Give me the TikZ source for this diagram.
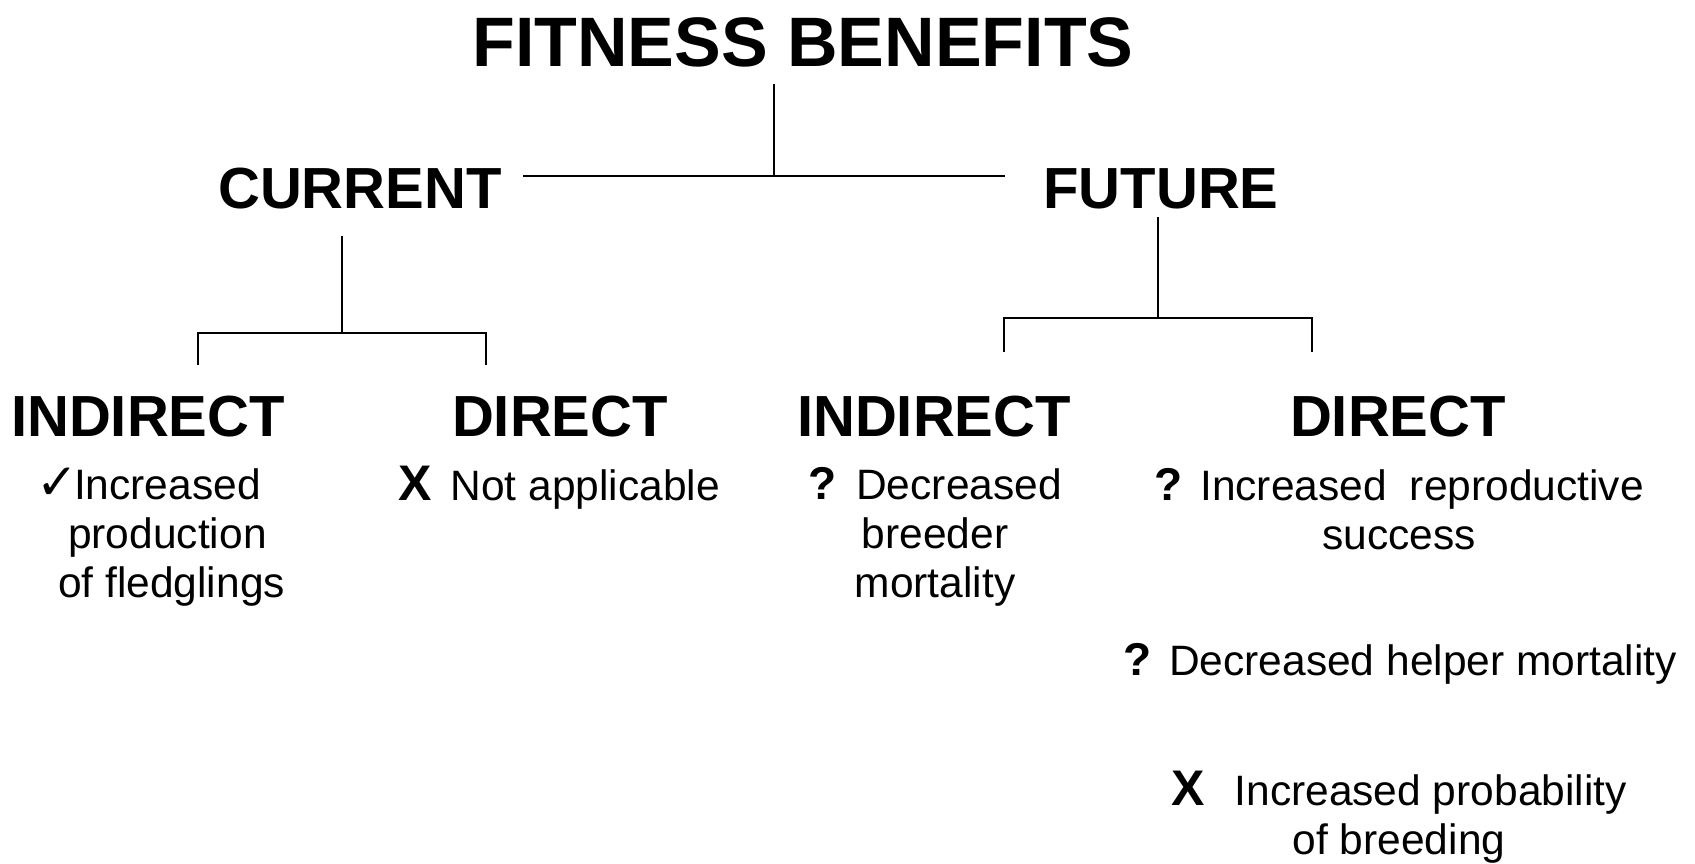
\documentclass[tikz,border=0pt]{standalone}
\usepackage{fontspec}
\setmainfont{Liberation Sans}
\newfontfamily\symfont{DejaVu Sans}
\newcommand\qmk{{\fontsize{46}{46}\selectfont\bfseries ?}}
\newcommand\xmk{{\fontsize{50}{50}\selectfont\bfseries X}}
\newcommand\ckmk{{\symfont\fontsize{50}{50}\selectfont ✓}}
\begin{document}
\begin{tikzpicture}[x=1pt,y=-1pt,
  titletext/.style={font=\bfseries\fontsize{70}{80}\selectfont, inner sep=0, anchor=base},
  headtext/.style={font=\bfseries\fontsize{58}{66}\selectfont, inner sep=0, anchor=base},
  bodytext/.style={font=\fontsize{42.5}{48.6}\selectfont, inner sep=0, align=center, anchor=base},
  conn/.style={line width=2pt}]
\useasboundingbox (0,0) rectangle (1695,864);
% headings
\node[titletext] (fb) at (803,67) {FITNESS BENEFITS};
\node[headtext] (cur) at (360,208) {CURRENT};
\node[headtext] (fut) at (1161,208) {FUTURE};
\node[headtext] (ci) at (148,436) {INDIRECT};
\node[headtext] (cd) at (560,436) {DIRECT};
\node[headtext] (fi) at (934,436) {INDIRECT};
\node[headtext] (fd) at (1398,436) {DIRECT};
% bodies (multi-line nodes: base anchor is the last line's baseline)
\node[bodytext, align=left, anchor=base west] (cib) at (36,597)
  {\ckmk\hspace{-4pt}Increased\\\hspace*{32pt}production\\\hspace*{22pt}of fledglings};
\node[bodytext, anchor=base west] (cdb) at (398,500) {\xmk\hspace{19pt}Not applicable};
\node[bodytext] (fib) at (935,597) {\qmk\hspace{20pt}Decreased\\breeder\\mortality};
\node[bodytext] (fdb) at (1399,549) {\qmk\hspace{18pt}Increased\hspace{23pt}reproductive\\success};
\node[bodytext] (fdc) at (1400,675) {\qmk\hspace{18pt}Decreased helper mortality};
\node[bodytext] (fdd) at (1399,854) {\xmk\hspace{30pt}Increased probability\\of breeding};
% connectors
\coordinate (t0) at (774,84);
\coordinate (t1) at (774,176);
\coordinate (hL) at (523,176);
\coordinate (hR) at (1005,176);
\draw[conn] (t0) -- (t1);
\draw[conn] (hL) -- (hR);
\coordinate (c0) at (342,236);
\coordinate (c1) at (342,333);
\coordinate (cL) at (198,333);
\coordinate (cR) at (486,333);
\coordinate (cLd) at (198,365);
\coordinate (cRd) at (486,365);
\draw[conn] (c0) -- (c1);
\draw[conn] (cLd) -- (cL) -- (cR) -- (cRd);
\coordinate (f0) at (1158,217);
\coordinate (f1) at (1158,318);
\coordinate (fL) at (1004,318);
\coordinate (fR) at (1312,318);
\coordinate (fLd) at (1004,352);
\coordinate (fRd) at (1312,352);
\draw[conn] (f0) -- (f1);
\draw[conn] (fLd) -- (fL) -- (fR) -- (fRd);
\end{tikzpicture}
\end{document}
